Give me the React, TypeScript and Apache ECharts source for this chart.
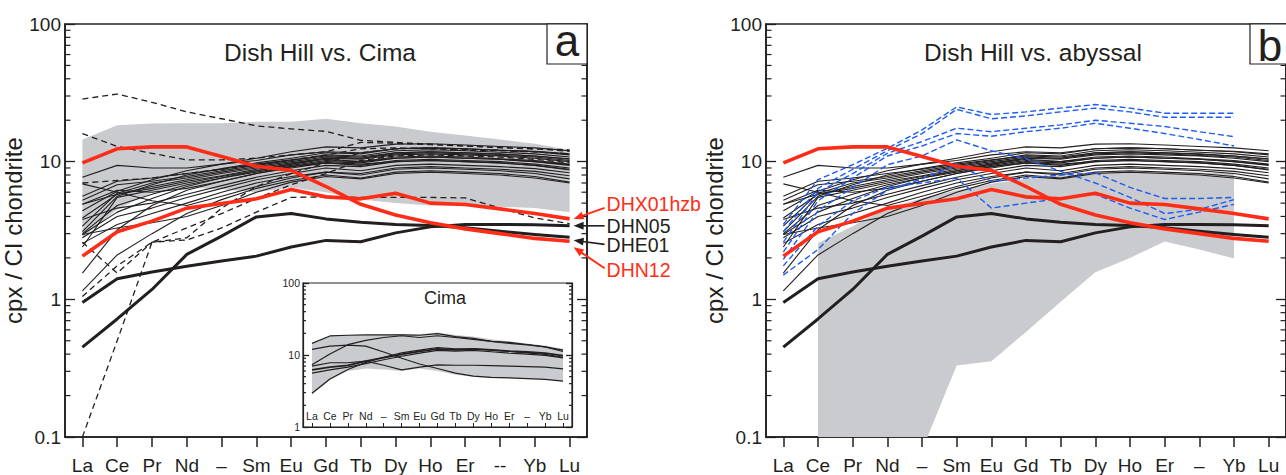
import React, { useEffect, useRef } from 'react';
import * as echarts from 'echarts';

// ---------- categories / ticks ----------
const categoriesA = ['La', 'Ce', 'Pr', 'Nd', '–', 'Sm', 'Eu', 'Gd', 'Tb', 'Dy', 'Ho', 'Er', '--', 'Yb', 'Lu'];
const categoriesB = ['La', 'Ce', 'Pr', 'Nd', '–', 'Sm', 'Eu', 'Gd', 'Tb', 'Dy', 'Ho', 'Er', '–', 'Yb', 'Lu'];
const categoriesInset = ['La', 'Ce', 'Pr', 'Nd', '–', 'Sm', 'Eu', 'Gd', 'Tb', 'Dy', 'Ho', 'Er', '–', 'Yb', 'Lu'];
const minorTicksMain = [0.2, 0.3, 0.4, 0.5, 0.6, 0.7, 0.8, 0.9, 2, 3, 4, 5, 6, 7, 8, 9, 20, 30, 40, 50, 60, 70, 80, 90];
const minorTicksInset = [2, 3, 4, 5, 6, 7, 8, 9, 20, 30, 40, 50, 60, 70, 80, 90];

// ---------- Cima field (grey band) ----------
const cimaUpper = [14.5, 18.4, 18.9, 19, 19, 19.5, 19.5, 20.5, 19, 18, 16.5, 15.5, 14.5, 13.5, 12.2];
const cimaLower = [2.8, 4.5, 6, 6.5, 6.3, 6, 6.5, 6, 5.3, 5, 4.8, 4.8, 4.7, 4.6, 4.3];

// ---------- abyssal field (grey band) ----------
const abyssalUpper = [null, 2.57, 3.4, 4.6, 5.4, 6.2, 6.9, 7.5, 7.9, 8.2, 8.3, 8.3, 8.3, 8.3, null];
const abyssalLower = [null, 0.1, 0.1, 0.1, 0.08, 0.33, 0.355, 0.58, 0.96, 1.57, 2.0, 2.63, 2.3, 1.98, null];

// ---------- Cima samples (inset) ----------
const cima1 = [14.5, 18.4, 18.8, 19, 19, 19, 18.8, 19.8, 18, 17, 15.5, 15, 14, 13, 11.7];
const cima2 = [12, 13.3, 13.7, 13.3, 11, 9, 7.5, 6.5, 5.6, 5.1, 4.9, 4.8, 4.7, 4.6, 4.35];
const cima3 = [7.3, 10.3, 13.9, 16, 17.5, 18.5, 17.5, 18.5, 17.5, 16.5, 15.5, 14.5, 13.8, 13, 11.2];
const cima4 = [2.94, 4.64, 6.3, 7.9, 9.3, 10.7, 11.7, 12.7, 12.2, 12.2, 11.7, 11.2, 10.7, 10.2, 9.3];
const cima5 = [7.0, 7.8, 7.8, 8.2, 7.2, 6.2, 6.8, 7.3, 7.2, 7.2, 7.1, 7.0, 6.9, 6.8, 6.4];
const cima6 = [6.2, 6.8, 7.2, 8.2, 9.2, 10.2, 11.2, 12.2, 11.8, 12.2, 11.8, 11.3, 11, 10.6, 9.8];
const cima7 = [5.6, 6.2, 6.8, 7.6, 8.6, 9.6, 10.6, 11.6, 11.3, 11.6, 11.1, 10.6, 10.3, 9.9, 9.1];
const cimaSamples = [cima1, cima2, cima3, cima4, cima5, cima6, cima7];

// ---------- Dish Hill samples (thin black) ----------
const dh01 = [7.7, 9.4, 9.0, 9.0, 9.6, 10.2, 11.2, 11.8, 11.6, 12.4, 12.6, 12.4, 12.1, 11.9, 11.4];
const dh02 = [6.9, 6.0, 5.2, 4.8, 5.6, 6.6, 7.6, 8.4, 8.2, 9.0, 9.2, 9.0, 8.8, 8.5, 7.9];
const dh03 = [5.6, 7.2, 7.6, 8.2, 8.8, 9.6, 10.3, 11.0, 10.8, 11.6, 11.8, 11.6, 11.4, 11.0, 10.5];
const dh04 = [5.24, 6.8, 7.2, 7.8, 8.6, 9.4, 10.2, 11.2, 11.0, 12.0, 12.2, 12.0, 11.7, 11.4, 10.8];
const dh05 = [4.9, 5.8, 6.6, 7.4, 8.2, 9.0, 9.8, 10.6, 10.4, 11.2, 11.4, 11.2, 11.0, 10.6, 10.0];
const dh06 = [3.9, 5.8, 6.4, 7.2, 7.9, 8.8, 9.6, 10.4, 10.0, 10.8, 11.0, 10.8, 10.5, 10.2, 9.6];
const dh07 = [3.8, 4.6, 5.0, 5.8, 6.7, 7.7, 8.6, 9.4, 9.2, 10.0, 10.2, 10.0, 9.8, 9.4, 8.8];
const dh08 = [3.1, 5.6, 6.8, 8.0, 8.9, 9.8, 10.6, 11.6, 11.4, 12.4, 12.6, 12.4, 12.1, 11.8, 11.2];
const dh09 = [2.96, 4.3, 5.4, 6.6, 7.6, 8.6, 9.4, 10.2, 10.0, 10.6, 10.8, 10.6, 10.4, 10.0, 9.4];
const dh10 = [2.8, 4.0, 4.6, 5.5, 6.4, 7.4, 8.2, 9.0, 8.6, 9.4, 9.6, 9.4, 9.2, 8.9, 8.3];
const dh11 = [2.55, 3.5, 4.2, 5.0, 6.0, 7.0, 7.8, 8.4, 8.0, 8.8, 9.0, 8.8, 8.6, 8.2, 7.5];
const dh12 = [1.55, 3.2, 4.8, 6.2, 7.2, 8.2, 9.2, 10.0, 9.8, 10.6, 10.8, 10.6, 10.4, 10.0, 9.5];
const dh13 = [1.15, 2.1, 3.0, 4.2, 5.3, 6.4, 7.3, 8.0, 7.6, 8.4, 8.6, 8.4, 8.2, 7.8, 7.1];
const dh14 = [3.4, 5.9, 7.0, 7.6, 8.4, 9.2, 10.0, 10.8, 10.6, 11.4, 11.6, 11.4, 11.1, 10.8, 10.2];
const dh15 = [4.9, 6.2, 6.0, 6.4, 7.2, 8.2, 9.0, 9.8, 9.4, 10.2, 10.4, 10.2, 10.0, 9.6, 9.0];
const dh16 = [2.96, 3.3, 3.6, 4.0, 4.8, 6.0, 7.1, 7.8, 7.5, 8.2, 8.4, 8.2, 8.0, 7.6, 7.0];
const dh17 = [2.4, 5.5, 6.2, 7.0, 7.8, 8.6, 9.6, 10.6, 10.6, 11.6, 11.8, 11.6, 11.3, 11.0, 10.4];
const dh18 = [4.4, 6.1, 7.4, 8.6, 9.6, 10.6, 11.8, 12.8, 12.6, 13.4, 13.5, 13.2, 12.9, 12.6, 12.0];
const dh19 = [3.0, 4.8, 5.8, 6.8, 7.6, 8.4, 9.2, 9.8, 9.6, 10.0, 10.2, 10.0, 9.8, 9.4, 8.7];
const dishHillThin = [dh01, dh02, dh03, dh04, dh05, dh06, dh07, dh08, dh09, dh10, dh11, dh12, dh13, dh14, dh15, dh16, dh17, dh18, dh19];

// ---------- labelled samples ----------
const DHN05 = [0.95, 1.41, 1.58, 1.74, 1.9, 2.06, 2.4, 2.68, 2.62, 3.04, 3.36, 3.5, 3.5, 3.48, 3.42];
const DHE01 = [0.45, 0.72, 1.18, 2.12, 2.88, 3.97, 4.2, 3.84, 3.63, 3.5, 3.44, 3.31, 3.12, 2.96, 2.82];
const DHN12 = [9.8, 12.4, 12.8, 12.8, 10.9, 9.25, 8.65, 6.6, 4.9, 4.1, 3.6, 3.25, 3.0, 2.77, 2.64];
const DHX01hzb = [2.06, 3.1, 3.7, 4.6, 4.97, 5.37, 6.27, 5.55, 5.37, 5.9, 5.0, 4.88, 4.54, 4.2, 3.84];

// ---------- Dish Hill dashed (panel a) ----------
const dash1 = [28.5, 31, 27, 23, 20.5, 18.2, 17.3, 16.6, 14.3, 13.8, 13.4, 13, 12.6, 12.4, 12.2];
const dash2 = [16, 12.9, 11.5, 10.3, 10.3, 10.6, 11.2, 11.8, 13.8, 13.6, 13.3, 13, 12.7, 12.4, 11.9];
const dash3 = [7, 7.3, 7.6, 8.2, 8.8, 9.5, 10.3, 11.2, 12.4, 12.6, 12.4, 12.1, 12, 11.8, 11.4];
const dash4 = [2.6, 1.55, 2.6, 2.7, 3.3, 4.3, 5.5, 5.55, 5.5, 5.5, 5.5, 5.45, 4.6, 3.9, 3.55];
const dash5 = [0.1, 0.5, 2.6, 2.8, 4.6, 6.6, 8.2, 9.8, 11.6, 12.4, 12.6, 12.3, 12.1, 11.8, 11.3];
const dash6 = [1.05, 1.75, 2.6, 3.3, 4.2, 5.4, 6.8, 8.2, 10.2, 11, 11.2, 11, 10.8, 10.4, 9.8];
const dishHillDashed = [dash1, dash2, dash3, dash4, dash5, dash6];

// ---------- abyssal samples (blue dashed, panel b) ----------
const aby1 = [3.5, 7.4, 9.5, 12.5, 17, 25, 22, 23, 24.5, 26, 24.5, 22.5, 22.5, 22.5, null];
const aby2 = [3.1, 6.4, 8.8, 12, 16, 24, 20.5, 21.5, 23, 24.5, 23, 21, 21, 21, null];
const aby3 = [2.6, 6.0, 8.2, 11.5, 14, 17.5, 16.5, 17.5, 18.5, 20, 19, 18, 16.5, 15.2, null];
const aby4 = [2.2, 5.2, 7.6, 11, 13, 16, 15.3, 16.5, 17.5, 19, 17.5, 16, 14.5, 13, null];
const aby5 = [1.95, 4.4, 6.5, 9.5, 11, 14.4, 12, 10.5, 8.5, 7, 5.5, 4.2, 4.5, 5.3, null];
const aby6 = [1.5, 2.3, 4.2, 6.2, 7.5, 9.5, 7.2, 7.6, 8.0, 8.3, 6.5, 5.4, 5.4, 5.5, null];
const aby7 = [1.75, 3.4, 5.2, 6.5, 7.0, 7.6, 4.6, 5.0, 5.4, 5.8, 4.6, 3.8, 4.3, 4.9, null];
const abyssalSamples = [aby1, aby2, aby3, aby4, aby5, aby6, aby7];

// ---------- styles ----------
const INK = '#231f20';
const RED = '#ff2d17';
const BLUE = '#1f5cf2';
const GREY = '#c9cbce';
const FONT = 'Liberation Sans, Arial, Helvetica, sans-serif';

function lineSeries(xi: number, yi: number, data: any[], color: string, width: number, type: any, z: number) {
  return {
    type: 'line', xAxisIndex: xi, yAxisIndex: yi, data, symbol: 'none', showSymbol: false,
    silent: true, z, connectNulls: false,
    lineStyle: { color, width, type, join: 'round', cap: 'butt' },
  };
}

function bandSeries(xi: number, yi: number, upper: any[], lower: any[]) {
  return {
    type: 'custom', xAxisIndex: xi, yAxisIndex: yi, silent: true, z: 1, clip: true,
    data: [[0, 1]],
    renderItem: (params: any, api: any) => {
      const top: number[][] = [];
      const bottom: number[][] = [];
      upper.forEach((u: any, i: number) => { if (u != null) top.push(api.coord([i, u])); });
      lower.forEach((l: any, i: number) => { if (l != null) bottom.push(api.coord([i, l])); });
      return { type: 'polygon', shape: { points: top.concat(bottom.reverse()) }, style: { fill: GREY } };
    },
  };
}

function minorTickSeries(xi: number, yi: number, values: number[], len: number) {
  return {
    type: 'custom', xAxisIndex: xi, yAxisIndex: yi, silent: true, z: 20, clip: false,
    data: values.map((v) => [0, v]),
    renderItem: (params: any, api: any) => {
      const cs = params.coordSys;
      const y = api.coord([0, api.value(1)])[1];
      const st = { stroke: INK, lineWidth: 1.2 };
      return {
        type: 'group',
        children: [
          { type: 'line', shape: { x1: cs.x, y1: y, x2: cs.x + len, y2: y }, style: st },
          { type: 'line', shape: { x1: cs.x + cs.width - len, y1: y, x2: cs.x + cs.width, y2: y }, style: st },
        ],
      };
    },
  };
}

function catAxis(gridIndex: number, data: string[], inset: boolean) {
  return {
    type: 'category', gridIndex, data, boundaryGap: true,
    axisLine: { show: true, lineStyle: { color: INK, width: inset ? 1.2 : 1.6 } },
    axisTick: { show: true, alignWithLabel: true, inside: inset, length: inset ? 4 : 10, lineStyle: { color: INK, width: inset ? 1 : 1.5 } },
    axisLabel: { interval: 0, inside: inset, color: INK, fontSize: inset ? 10.5 : 19, margin: inset ? 6 : 19, fontFamily: FONT },
    splitLine: { show: false },
  };
}

function logAxis(gridIndex: number, position: string, min: number, max: number, showLabel: boolean, inset: boolean, name?: string) {
  return {
    type: 'log', logBase: 10, gridIndex, position, min, max,
    name: name || '', nameLocation: 'middle', nameGap: 31,
    nameTextStyle: { fontSize: 24, color: INK, fontFamily: FONT },
    axisLine: { show: true, lineStyle: { color: INK, width: inset ? 1.2 : 1.6 } },
    axisTick: { show: true, inside: true, length: inset ? 6 : 10, lineStyle: { color: INK, width: 1.3 } },
    axisLabel: { show: showLabel, color: INK, fontSize: inset ? 10.5 : 19, margin: inset ? 3 : 4, fontFamily: FONT },
    splitLine: { show: false },
  };
}

function buildOption() {
  const series: any[] = [];
  // panel a (grid 0): x0, y0 left, y1 right
  series.push(bandSeries(0, 0, cimaUpper, cimaLower));
  dishHillThin.forEach((d) => series.push(lineSeries(0, 0, d, INK, 1.1, 'solid', 3)));
  dishHillDashed.forEach((d) => series.push(lineSeries(0, 0, d, INK, 1.3, [6, 4], 4)));
  series.push(lineSeries(0, 0, DHN05, INK, 3, 'solid', 5));
  series.push(lineSeries(0, 0, DHE01, INK, 3, 'solid', 5));
  series.push(lineSeries(0, 0, DHN12, RED, 3.6, 'solid', 6));
  series.push(lineSeries(0, 0, DHX01hzb, RED, 3.6, 'solid', 6));
  series.push(minorTickSeries(0, 0, minorTicksMain, 5.5));
  // panel b (grid 1): x1, y2 left, y3 right
  series.push(bandSeries(1, 2, abyssalUpper, abyssalLower));
  dishHillThin.forEach((d) => series.push(lineSeries(1, 2, d, INK, 1.1, 'solid', 3)));
  abyssalSamples.forEach((d) => series.push(lineSeries(1, 2, d, BLUE, 1.4, [6, 3], 4)));
  series.push(lineSeries(1, 2, DHN05, INK, 3, 'solid', 5));
  series.push(lineSeries(1, 2, DHE01, INK, 3, 'solid', 5));
  series.push(lineSeries(1, 2, DHN12, RED, 3.6, 'solid', 6));
  series.push(lineSeries(1, 2, DHX01hzb, RED, 3.6, 'solid', 6));
  series.push(minorTickSeries(1, 2, minorTicksMain, 5.5));
  // inset (grid 2): x2, y4 left, y5 right
  series.push(bandSeries(2, 4, cimaUpper, cimaLower));
  cimaSamples.forEach((d, i) => series.push(lineSeries(2, 4, d, INK, i === 5 ? 1.8 : 1.2, 'solid', 3)));
  series.push(minorTickSeries(2, 4, minorTicksInset, 3));

  return {
    animation: false,
    backgroundColor: '#ffffff',
    textStyle: { fontFamily: FONT },
    grid: [
      { left: 65, top: 24, width: 522, height: 414, show: true, borderColor: INK, borderWidth: 1.6, backgroundColor: 'transparent' },
      { left: 766, top: 24, width: 523, height: 414, show: true, borderColor: INK, borderWidth: 1.6, backgroundColor: 'transparent' },
      { left: 303, top: 283, width: 269, height: 144, show: true, borderColor: INK, borderWidth: 1.2, backgroundColor: '#ffffff' },
    ],
    xAxis: [catAxis(0, categoriesA, false), catAxis(1, categoriesB, false), catAxis(2, categoriesInset, true)],
    yAxis: [
      logAxis(0, 'left', 0.1, 100, true, false, 'cpx / CI chondrite'),
      logAxis(0, 'right', 0.1, 100, false, false),
      logAxis(1, 'left', 0.1, 100, true, false, 'cpx / CI chondrite'),
      logAxis(1, 'right', 0.1, 100, false, false),
      logAxis(2, 'left', 1, 100, true, true),
      logAxis(2, 'right', 1, 100, false, true),
    ],
    series,
  };
}

function arrow(tail: number[], tip: number[], color: string, width: number) {
  const dx = tip[0] - tail[0];
  const dy = tip[1] - tail[1];
  const L = Math.hypot(dx, dy);
  const ux = dx / L;
  const uy = dy / L;
  const head = 10;
  const half = 4;
  const bx = tip[0] - ux * head;
  const by = tip[1] - uy * head;
  return [
    { type: 'line', z: 100, shape: { x1: tail[0], y1: tail[1], x2: bx + ux, y2: by + uy }, style: { stroke: color, lineWidth: width } },
    { type: 'polygon', z: 100, shape: { points: [tip, [bx - uy * half, by + ux * half], [bx + uy * half, by - ux * half]] }, style: { fill: color } },
  ];
}

export default function App() {
  const ref = useRef<HTMLDivElement>(null);
  useEffect(() => {
    document.body.style.margin = '0';
    const chart = echarts.init(ref.current as HTMLDivElement, null, { renderer: 'svg' });
    chart.setOption(buildOption());

    const px = (v: number) => chart.convertToPixel({ xAxisIndex: 0, yAxisIndex: 0 } as any, [14, v]) as number[];
    const pX = px(DHX01hzb[14]);
    const pN5 = px(DHN05[14]);
    const pE1 = px(DHE01[14]);
    const pN12 = px(DHN12[14]);
    const tipX = pX[0] + 4;
    const tailX = tipX + 31;
    const labelX = tailX + 2;

    const graphic: any[] = [
      { type: 'text', z: 100, x: 320, y: 52, style: { text: 'Dish Hill vs. Cima', fontSize: 24.5, fill: INK, fontFamily: FONT, textAlign: 'center', textVerticalAlign: 'middle' } },
      { type: 'text', z: 100, x: 1033, y: 52, style: { text: 'Dish Hill vs. abyssal', fontSize: 24.5, fill: INK, fontFamily: FONT, textAlign: 'center', textVerticalAlign: 'middle' } },
      { type: 'rect', z: 99, shape: { x: 547, y: 24, width: 40, height: 40 }, style: { fill: '#fff', stroke: INK, lineWidth: 1.2 } },
      { type: 'text', z: 100, x: 567, y: 40, style: { text: 'a', fontSize: 44, fill: INK, fontFamily: FONT, textAlign: 'center', textVerticalAlign: 'middle' } },
      { type: 'rect', z: 99, shape: { x: 1250, y: 24, width: 40, height: 40 }, style: { fill: '#fff', stroke: INK, lineWidth: 1.2 } },
      { type: 'text', z: 100, x: 1270, y: 45, style: { text: 'b', fontSize: 44, fill: INK, fontFamily: FONT, textAlign: 'center', textVerticalAlign: 'middle' } },
      { type: 'text', z: 100, x: 445, y: 298, style: { text: 'Cima', fontSize: 18, fill: INK, fontFamily: FONT, textAlign: 'center', textVerticalAlign: 'middle' } },
      ...arrow([tailX, pX[1] - 11], [tipX, pX[1]], RED, 2),
      ...arrow([tailX, pN5[1]], [tipX, pN5[1]], INK, 1.6),
      ...arrow([tailX, pE1[1] + 7], [tipX, pE1[1] + 3], INK, 1.6),
      ...arrow([tailX, pN12[1] + 27], [tipX, pN12[1] + 6], RED, 2),
      { type: 'text', z: 100, x: labelX, y: pX[1] - 15, style: { text: 'DHX01hzb', fontSize: 19.5, fill: RED, fontFamily: FONT, textAlign: 'left', textVerticalAlign: 'middle' } },
      { type: 'text', z: 100, x: labelX, y: pN5[1], style: { text: 'DHN05', fontSize: 19.5, fill: INK, fontFamily: FONT, textAlign: 'left', textVerticalAlign: 'middle' } },
      { type: 'text', z: 100, x: labelX, y: pE1[1] + 8, style: { text: 'DHE01', fontSize: 19.5, fill: INK, fontFamily: FONT, textAlign: 'left', textVerticalAlign: 'middle' } },
      { type: 'text', z: 100, x: labelX, y: pN12[1] + 29, style: { text: 'DHN12', fontSize: 19.5, fill: RED, fontFamily: FONT, textAlign: 'left', textVerticalAlign: 'middle' } },
    ];
    chart.setOption({ graphic });
    return () => chart.dispose();
  }, []);
  return <div ref={ref} style={{ width: 1286, height: 475 }} />;
}
